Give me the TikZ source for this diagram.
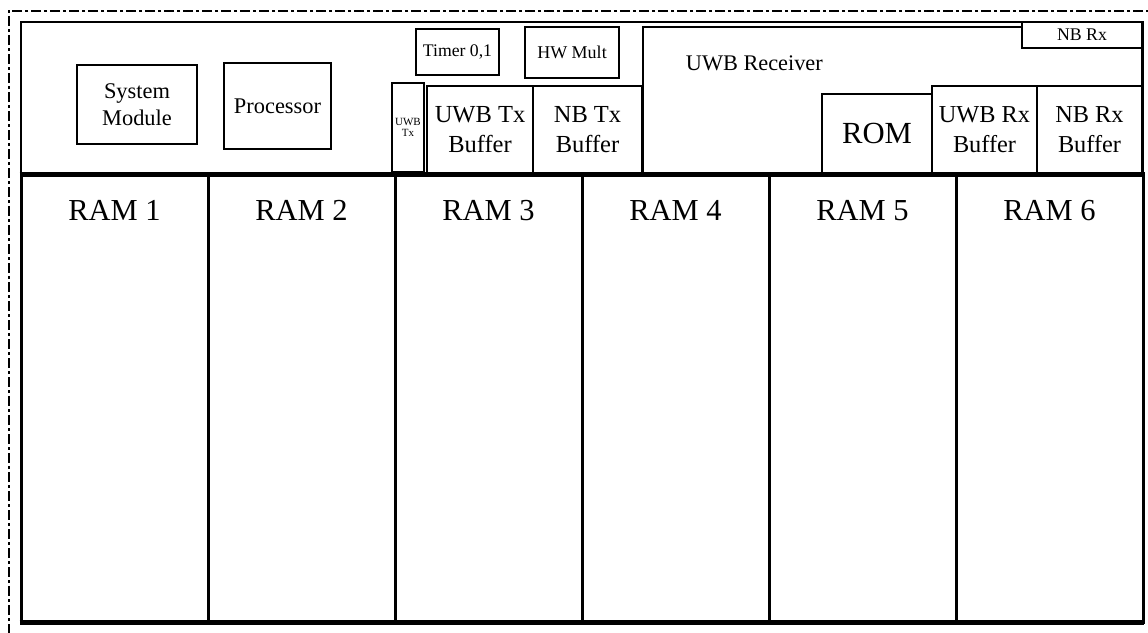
\documentclass[tikz,border=0pt]{standalone}
\usepackage{fontspec}
\setmainfont{Liberation Serif}
\newcommand{\fs}[1]{\fontsize{#1}{1.22\dimexpr#1pt\relax}\selectfont}
\begin{document}
\begin{tikzpicture}[x=1pt,y=-1pt,
  frame/.style={line width=2pt,dash pattern=on 10pt off 3pt on 3pt off 3pt},
  outerbox/.style={draw,line width=2.8pt,inner sep=0pt},
  blk/.style={draw,line width=2.2pt,fill=white,inner sep=0pt,align=center},
  ramcol/.style={draw,line width=3pt,inner sep=0pt},
  ramtext/.style={font=\fs{30.5},anchor=base},
  divider/.style={line width=4pt}]
\useasboundingbox (0,0) rectangle (1148,632);
\clip (0,0) rectangle (1148,632);

% dash-dotted enclosure (runs past the right and bottom edges)
\coordinate (fa) at (8.5,10.5);
\coordinate (fb) at (1200,10.5);
\coordinate (fc) at (8.5,700);
\draw[frame] (fb) -- (fa) -- (fc);

% chip outline
\node[outerbox,minimum width=1122pt,minimum height=600pt] (chip) at (582,322) {};

% RAM banks
\foreach \i/\x in {1/114.5,2/301.5,3/488.5,4/675.5,5/862.5,6/1049.5}{
  \node[ramcol,minimum width=187pt,minimum height=447pt] (ram\i) at (\x,398.5) {};
  \node[ramtext] (ramlabel\i) at ([yshift=-47pt]ram\i.north) {RAM \i};
}
\draw[divider] (ram1.north west) -- (ram6.north east);
\draw[line width=5pt] ([yshift=0.5pt]chip.south west) -- ([yshift=0.5pt]chip.south east);

% upper blocks
\node[blk,font=\fs{22.4},minimum width=120pt,minimum height=79pt] (sysmod) at (137,104.5) {System\\Module};
\node[blk,font=\fs{22.4},minimum width=107pt,minimum height=86pt] (proc) at (277.5,106) {Processor};
\node[blk,font=\fs{11},minimum width=32pt,minimum height=89pt] (uwbtx) at (408,127.5) {UWB\\[-3pt]Tx};
\node[blk,font=\fs{17.7},minimum width=83pt,minimum height=46pt] (timer) at (457.5,52) {Timer 0,1};
\node[blk,font=\fs{18},minimum width=94pt,minimum height=51pt] (hwmult) at (572,52.5) {HW Mult};
\node[blk,line width=2.6pt,font=\fs{24.5},minimum width=106pt,minimum height=87pt] (uwbtxbuf) at (480,129.5) {UWB Tx\\Buffer};
\node[blk,line width=2.6pt,font=\fs{24.5},minimum width=109pt,minimum height=87pt] (nbtxbuf) at (587.5,129.5) {NB Tx\\Buffer};

% receiver area
\node[blk,line width=2.6pt,minimum width=499pt,minimum height=146pt] (rcv) at (892.5,100) {};
\node[font=\fs{22.3},anchor=base west,inner sep=0pt] (rcvlabel) at ([xshift=44pt,yshift=-45pt]rcv.north west) {UWB Receiver};
\node[blk,font=\fs{17.8},minimum width=120pt,minimum height=26pt] (nbrx) at (1082,35) {NB Rx};
\node[blk,line width=2.6pt,font=\fs{30.7},minimum width=110pt,minimum height=79pt] (rom) at (877,133.5) {ROM};
\node[blk,line width=2.6pt,font=\fs{24.3},minimum width=105pt,minimum height=87pt] (uwbrxbuf) at (984.5,129.5) {UWB Rx\\Buffer};
\node[blk,line width=2.6pt,font=\fs{24.3},minimum width=105pt,minimum height=87pt] (nbrxbuf) at (1089.5,129.5) {NB Rx\\Buffer};
\end{tikzpicture}
\end{document}
